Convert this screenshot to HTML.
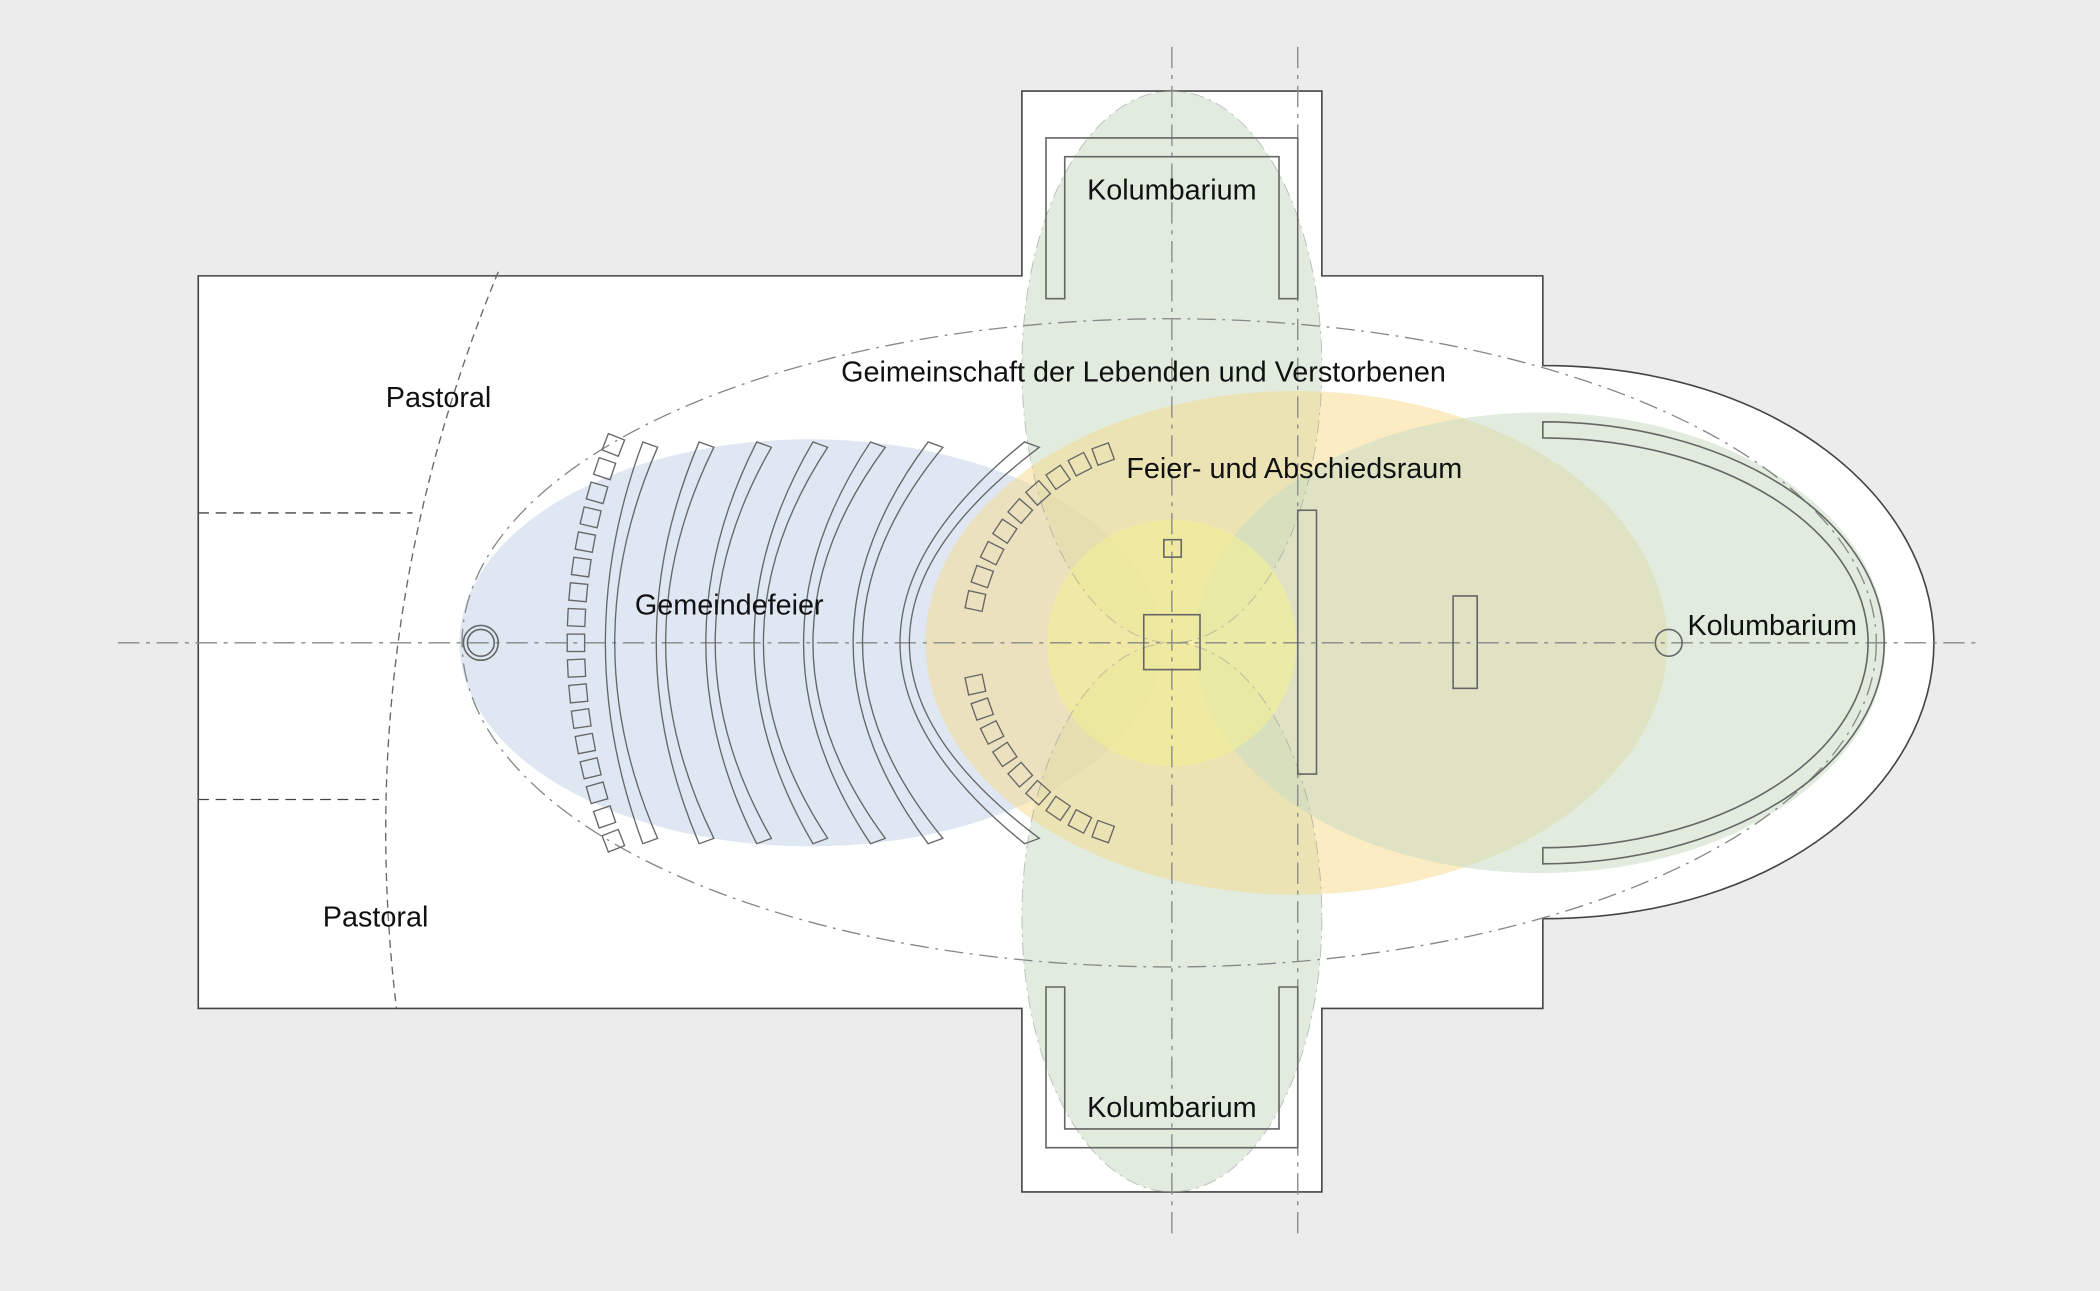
<!DOCTYPE html>
<html><head><meta charset="utf-8"><style>
html,body{margin:0;padding:0;background:#ececec;}
svg{display:block}
text{font-family:"Liberation Sans",Arial,sans-serif;font-size:21.5px;fill:#111}
</style></head><body>
<svg id="s" width="2100" height="1291" viewBox="0 0 1568 964" xmlns="http://www.w3.org/2000/svg">
<rect width="1568" height="964" fill="#ececec"/>
<path d="M148,206 L763,206 L763,68 L987,68 L987,206 L1152,206 L1152,273 C1330,273 1444,375 1444,480 C1444,585 1330,686 1152,686 L1152,753 L987,753 L987,890 L763,890 L763,753 L148,753 Z" fill="#fff" stroke="#444" stroke-width="1.2"/>
<ellipse cx="605" cy="480" rx="262" ry="152" fill="#dbe5f1" opacity="0.9"/>
<ellipse cx="875" cy="274" rx="112" ry="206" fill="#c8dcc4" opacity="0.55"/>
<ellipse cx="875" cy="685" rx="112" ry="205" fill="#c8dcc4" opacity="0.55"/>
<ellipse cx="968" cy="480" rx="277" ry="188" fill="#f7d98a" opacity="0.5"/>
<ellipse cx="1150" cy="480" rx="258" ry="172" fill="#c8dcc4" opacity="0.55"/>
<ellipse cx="875" cy="480" rx="93" ry="92" fill="#f4f090" opacity="0.55"/>
<ellipse cx="875" cy="274" rx="112" ry="206" fill="none" stroke="#999" stroke-width="0.7" stroke-dasharray="10,4,2,4" opacity="0.6"/>
<ellipse cx="875" cy="685" rx="112" ry="205" fill="none" stroke="#999" stroke-width="0.7" stroke-dasharray="10,4,2,4" opacity="0.6"/>
<ellipse cx="873" cy="480" rx="528" ry="242" fill="none" stroke="#888" stroke-width="1" stroke-dasharray="14,5,2,5"/>
<path d="M372,203 Q262,470 296,753" fill="none" stroke="#666" stroke-width="1" stroke-dasharray="6,4"/>
<line x1="148" y1="383" x2="308" y2="383" stroke="#444" stroke-width="1" stroke-dasharray="8,5"/>
<line x1="148" y1="597" x2="283" y2="597" stroke="#444" stroke-width="1" stroke-dasharray="8,5"/>
<line x1="88" y1="480" x2="1476" y2="480" stroke="#888" stroke-width="1" stroke-dasharray="16,5,3,5"/>
<line x1="875" y1="35" x2="875" y2="925" stroke="#888" stroke-width="1" stroke-dasharray="16,5,3,5"/>
<line x1="969" y1="35" x2="969" y2="925" stroke="#888" stroke-width="1" stroke-dasharray="16,5,3,5"/>
<g fill="none" stroke="#666" stroke-width="1.2">
<path d="M781,223 L781,103 L969,103 L969,223 L955,223 L955,117 L795,117 L795,223 Z"/>
<path d="M781,737 L781,857 L969,857 L969,737 L955,737 L955,843 L795,843 L795,737 Z"/>
<path d="M1152,315 A255,165 0 0 1 1152,645 L1152,633 A243,153 0 0 0 1152,327 Z"/>
<rect x="969" y="381" width="14" height="197"/>
<rect x="1085" y="445" width="18" height="69"/>
<rect x="854" y="459" width="42" height="41"/>
<rect x="869" y="403" width="13" height="13"/>
<circle cx="359" cy="480" r="13"/>
<circle cx="359" cy="480" r="10"/>
<circle cx="1246" cy="480" r="10"/>
</g>
<g id="pews" fill="none" stroke="#666" stroke-width="1"></g>
<g id="chairs" fill="none" stroke="#666" stroke-width="1"></g>
<text x="875" y="149" text-anchor="middle">Kolumbarium</text>
<text x="875" y="834" text-anchor="middle">Kolumbarium</text>
<text x="1260" y="474">Kolumbarium</text>
<text x="628" y="285">Geimeinschaft der Lebenden und Verstorbenen</text>
<text x="841" y="357">Feier- und Abschiedsraum</text>
<text x="474" y="459">Gemeindefeier</text>
<text x="288" y="304">Pastoral</text>
<text x="241" y="692">Pastoral</text>
</svg>
<script>
var NS="http://www.w3.org/2000/svg";
var pg=document.getElementById("pews");
var pews=[[480,452],[522,490],[565,527],[607,563],[650,600],[693,637],[765,672]];
pews.forEach(function(p){
 var xt=p[0],xl=p[1];
 var a=document.createElementNS(NS,"path");
 a.setAttribute("d","M"+xt+",330 Q"+(2*xl-xt)+",480 "+xt+",630 L"+(xt+11)+",626 Q"+(2*(xl+7)-(xt+11))+",480 "+(xt+11)+",334 Z");
 pg.appendChild(a);
});
var cg=document.getElementById("chairs");
function chair(cx,cy,ang){
 var r=document.createElementNS(NS,"rect");
 r.setAttribute("x",-6.5);r.setAttribute("y",-6.5);r.setAttribute("width",13);r.setAttribute("height",13);
 r.setAttribute("transform","translate("+cx+","+cy+") rotate("+ang+")");
 cg.appendChild(r);
}
var R=405,C=829;
for(var i=0;i<17;i++){
 var t=(-21.4+i*(42.8/16))*Math.PI/180;
 chair(C-R*Math.cos(t)+6, 480+R*Math.sin(t), -t*180/Math.PI);
}
for(var i=0;i<9;i++){
 var d=250-i*(58/8), t=d*Math.PI/180;
 chair(875+150*Math.cos(t),480+150*Math.sin(t),d);
 var t2=(360-d)*Math.PI/180;
 chair(875+150*Math.cos(t2),480+150*Math.sin(t2),360-d);
}
</script>
</body></html>
